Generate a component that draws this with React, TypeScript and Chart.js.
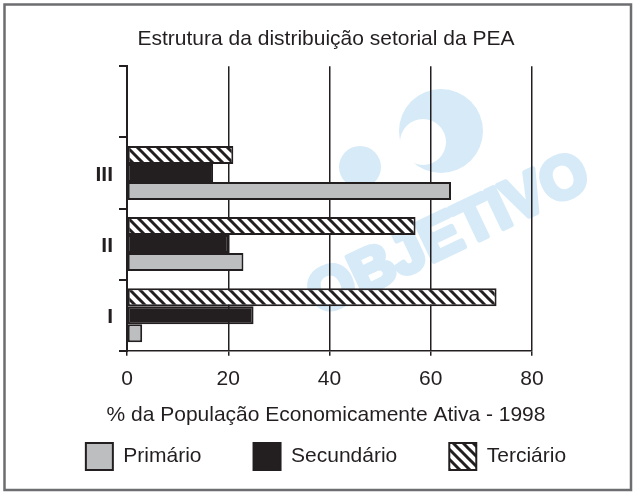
import React, { useEffect, useRef } from 'react';
import { Chart, registerables } from 'chart.js';

Chart.register(...registerables);

const categories = ['', 'III', 'II', 'I'];
const primario = [null, 64, 23, 3];
const secundario = [null, 17, 20, 25];
const terciario = [null, 21, 57, 73];
const seriesNames = ['Primário', 'Secundário', 'Terciário'];
const xMin = 0;
const xMax = 80;
const xStep = 20;
const chartTitle = 'Estrutura da distribuição setorial da PEA';
const xTitle = '% da População Economicamente Ativa - 1998';
const watermarkText = 'OBJETIVO';

const INK = '#231f20';
const GRAY = '#bcbec0';
const WM = '#d6eaf8';
const FONT = "'Liberation Sans', Arial, Helvetica, sans-serif";

function makeHatch(): CanvasPattern | string {
  const s = 10;
  const c = document.createElement('canvas');
  c.width = s;
  c.height = s;
  const g = c.getContext('2d');
  if (!g) return '#888';
  g.fillStyle = '#ffffff';
  g.fillRect(0, 0, s, s);
  g.strokeStyle = INK;
  g.lineWidth = 3;
  for (const k of [-s, 0, s]) {
    g.beginPath();
    g.moveTo(-1, k - 1);
    g.lineTo(s + 1, k + s + 1);
    g.stroke();
  }
  return g.createPattern(c, 'repeat') as CanvasPattern;
}

const framePlugin = {
  id: 'frame',
  afterDraw(chart: any) {
    const ctx = chart.ctx;
    ctx.save();
    ctx.strokeStyle = '#6d6e71';
    ctx.lineWidth = 2.5;
    ctx.strokeRect(4.5, 4.5, 626.5, 485.5);
    ctx.restore();
  },
};

const watermarkPlugin = {
  id: 'watermark',
  beforeDraw(chart: any) {
    const ctx = chart.ctx;
    ctx.save();
    ctx.fillStyle = WM;
    ctx.beginPath();
    ctx.arc(441, 131, 42, 0, Math.PI * 2);
    ctx.fill();
    ctx.fillStyle = '#ffffff';
    ctx.beginPath();
    ctx.arc(423, 142, 23, 0, Math.PI * 2);
    ctx.fill();
    ctx.fillStyle = WM;
    ctx.beginPath();
    ctx.arc(360, 167, 21, 0, Math.PI * 2);
    ctx.fill();
    ctx.translate(449, 236);
    ctx.rotate((-25.4 * Math.PI) / 180);
    ctx.font = `bold 60px ${FONT}`;
    ctx.strokeStyle = WM;
    ctx.lineWidth = 5;
    ctx.lineJoin = 'round';
    ctx.textAlign = 'center';
    ctx.textBaseline = 'middle';
    ctx.strokeText(watermarkText, 0, 0);
    ctx.fillText(watermarkText, 0, 0);
    ctx.restore();
  },
};

export default function App() {
  const ref = useRef<HTMLCanvasElement | null>(null);

  useEffect(() => {
    const canvas = ref.current;
    if (!canvas) return;
    const hatch = makeHatch();
    const chart = new Chart(canvas, {
      type: 'bar',
      data: {
        labels: categories,
        datasets: [
          {
            label: seriesNames[2],
            data: terciario,
            backgroundColor: hatch as any,
            borderColor: INK,
            borderWidth: 2,
            borderSkipped: false,
          },
          {
            label: seriesNames[1],
            data: secundario,
            backgroundColor: INK,
            borderColor: INK,
            borderWidth: 2,
            borderSkipped: false,
          },
          {
            label: seriesNames[0],
            data: primario,
            backgroundColor: GRAY,
            borderColor: INK,
            borderWidth: 2,
            borderSkipped: false,
          },
        ],
      },
      options: {
        indexAxis: 'y',
        responsive: false,
        maintainAspectRatio: false,
        animation: false,
        layout: { padding: { left: 20, right: 3, top: 0, bottom: 2 } },
        datasets: { bar: { categoryPercentage: 0.76, barPercentage: 1 } },
        scales: {
          x: {
            type: 'linear',
            position: 'bottom',
            min: xMin,
            max: xMax,
            ticks: {
              stepSize: xStep,
              color: INK,
              font: { family: FONT, size: 21 },
              padding: 11,
            },
            grid: { color: INK, lineWidth: 1.5, tickLength: 5, drawTicks: true },
            border: { display: true, color: INK, width: 1.5 },
            title: { display: false },
          },
          y: {
            type: 'category',
            position: 'left',
            ticks: {
              color: INK,
              font: { family: FONT, size: 21, weight: 'bold' },
              padding: 6,
              labelOffset: 2,
            },
            grid: {
              drawOnChartArea: false,
              color: INK,
              lineWidth: 2,
              tickLength: 8,
              offset: true,
            },
            border: { display: true, color: INK, width: 2 },
            afterFit: (s: any) => {
              s.width = 107;
            },
          },
          yPad: {
            type: 'linear',
            position: 'right',
            display: true,
            grid: { display: false },
            border: { display: false },
            ticks: { display: false },
            afterFit: (s: any) => {
              s.width = 100;
            },
          },
        },
        plugins: {
          title: {
            display: true,
            text: chartTitle,
            color: INK,
            font: { family: FONT, size: 21, weight: 'normal' },
            padding: { top: 27, bottom: 14 },
          },
          subtitle: {
            display: true,
            position: 'bottom',
            weight: 500,
            text: xTitle,
            color: INK,
            font: { family: FONT, size: 21, weight: 'normal' },
            padding: { top: -0.6, bottom: -36.6 },
          },
          legend: {
            display: true,
            position: 'bottom',
            reverse: true,
            labels: {
              boxWidth: 27,
              boxHeight: 27,
              padding: 52,
              color: INK,
              font: { family: FONT, size: 21 },
            },
          },
          tooltip: { enabled: false },
        },
      } as any,
      plugins: [watermarkPlugin, framePlugin],
    });
    return () => chart.destroy();
  }, []);

  return (
    <div style={{ position: 'absolute', left: 0, top: 0, width: 635, height: 494, background: '#fff' }}>
      <canvas ref={ref} width={635} height={494} style={{ display: 'block' }} />
    </div>
  );
}
